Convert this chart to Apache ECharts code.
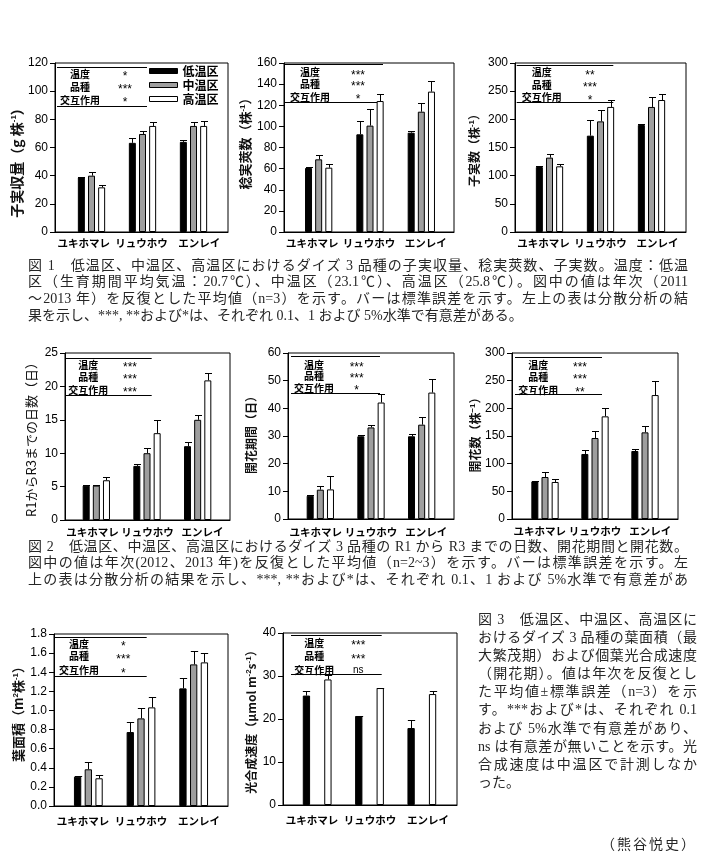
<!DOCTYPE html>
<html><head><meta charset="utf-8">
<script src="https://cdn.jsdelivr.net/npm/echarts@6/dist/echarts.min.js"></script>
<style>
html,body{margin:0;padding:0;background:#fff;width:705px;height:859px;overflow:hidden;}
#chart{position:absolute;left:0;top:0;width:705px;height:859px;}
.cap{position:absolute;font-family:"Liberation Serif","Noto Sans CJK JP",serif;font-size:14px;color:#262626;z-index:2;}
.cap div{white-space:nowrap;}
.c12 div{height:16.7px;line-height:16.7px;}
.c3 div{height:18.1px;line-height:18.1px;}
.j{text-align:justify;text-align-last:justify;}
</style></head><body>
<div id="chart"></div>
<div class="cap c12" style="left:28px;top:257.6px;width:660px;">
<div class="j">図 1　低温区、中温区、高温区におけるダイズ 3 品種の子実収量、稔実莢数、子実数。温度：低温</div>
<div class="j">区（生育期間平均気温：20.7℃）、中温区（23.1℃）、高温区（25.8℃）。図中の値は年次（2011</div>
<div class="j">～2013 年）を反復とした平均値（n=3）を示す。バーは標準誤差を示す。左上の表は分散分析の結</div>
<div>果を示し、***, **および*は、それぞれ 0.1、1 および 5%水準で有意差がある。</div>
</div>
<div class="cap c12" style="left:28px;top:538.6px;width:660px;">
<div class="j">図 2　低温区、中温区、高温区におけるダイズ 3 品種の R1 から R3 までの日数、開花期間と開花数。</div>
<div class="j">図中の値は年次(2012、2013 年)を反復とした平均値（n=2~3）を示す。バーは標準誤差を示す。左</div>
<div class="j">上の表は分散分析の結果を示し、***, **および*は、それぞれ 0.1、1 および 5%水準で有意差があ</div>
</div>
<div class="cap c3" style="left:478px;top:611px;width:219px;">
<div class="j">図 3　低温区、中温区、高温区に</div>
<div class="j">おけるダイズ 3 品種の葉面積（最</div>
<div class="j">大繁茂期）および個葉光合成速度</div>
<div class="j">（開花期）。値は年次を反復とし</div>
<div class="j">た平均値±標準誤差（n=3）を示</div>
<div class="j">す。***および*は、それぞれ 0.1</div>
<div class="j">および 5%水準で有意差があり、</div>
<div class="j">ns は有意差が無いことを示す。光</div>
<div class="j">合成速度は中温区で計測しなか</div>
<div>った。</div>
</div>
<div class="cap" style="right:8px;top:836px;letter-spacing:2px;line-height:18px;">（熊谷悦史）</div>
<script>
// ---------------- data ----------------
const varieties = ['ユキホマレ', 'リュウホウ', 'エンレイ'];
const zones = ['低温区', '中温区', '高温区'];
const factors = ['温度', '品種', '交互作用'];

// rows: 低温区, 中温区, 高温区 ; columns: varieties
const seedYieldMean = [[38.8, 63.3, 64.0], [40.0, 69.6, 75.3], [31.7, 75.3, 75.3]];
const seedYieldSE   = [[0.5, 3.3, 1.5], [2.8, 2.2, 2.8], [2.0, 2.7, 3.3]];
const podMean = [[60.6, 92.5, 94.0], [68.8, 100.7, 113.9], [60.9, 124.0, 132.9]];
const podSE   = [[0.5, 13.0, 2.0], [4.4, 15.7, 8.5], [3.8, 7.0, 10.0]];
const seedNumMean = [[115.4, 171, 190], [132, 196.4, 222], [116.6, 222, 234.3]];
const seedNumSE   = [[1, 28, 1], [6.5, 20, 17.6], [4.7, 13, 11]];
const r1r3Mean = [[5.15, 8.1, 11.05], [5.15, 10.0, 15.0], [5.95, 13.0, 20.9]];
const r1r3SE   = [[0.05, 0.25, 0.7], [0.05, 0.75, 0.7], [0.45, 1.9, 1.05]];
const flowerPeriodMean = [[8.4, 29.9, 29.9], [10.6, 33.1, 34.1], [10.7, 42.1, 45.7]];
const flowerPeriodSE   = [[0.2, 0.5, 0.9], [1.4, 1.0, 2.8], [4.7, 3.2, 4.9]];
const flowerNumMean = [[68, 117.5, 122.9], [75.9, 146.4, 156.6], [66.9, 185.5, 224]];
const flowerNumSE   = [[0.5, 7.2, 3.6], [9, 12.6, 12], [4.8, 14.5, 24.7]];
const leafAreaMean = [[0.307, 0.774, 1.231], [0.384, 0.917, 1.482], [0.29, 1.032, 1.503]];
const leafAreaSE   = [[0.005, 0.108, 0.11], [0.073, 0.105, 0.14], [0.03, 0.11, 0.094]];
const photoMean = [[25.45, 20.7, 17.9], [null, null, null], [29.2, 27.2, 25.8]];
const photoSE   = [[0.95, 0.1, 1.8], [null, null, null], [1.0, 0.1, 0.7]];

const yMax  = [120, 160, 300, 25, 60, 300, 1.8, 40];
const yStep = [20, 20, 50, 5, 10, 50, 0.2, 10];
const yNames = ['子実収量（g 株{s|-1}）', '稔実莢数（株{s|-1}）', '子実数（株{s|-1}）',
  'R1からR3までの日数（日）', '開花期間（日）', '開花数（株{s|−1}）',
  '葉面積（m{s|2}株{s|-1}）', '光合成速度（μmol m{s|-2}s{s|-1}）'];
const sigMarks = [['*', '***', '*'], ['***', '***', '*'], ['**', '***', '*'],
  ['***', '***', '***'], ['***', '***', '*'], ['***', '***', '**'],
  ['*', '***', '*'], ['***', '***', 'ns']];

// ---------------- layout ----------------
const frames = [[55,63,228,232],[284,63,454,232],[515,63,686,232],
  [65,353,230,520],[288,353,454,519],[512,353,678,519],
  [54,634,228,806],[283,633,457,805]];
const barSpan = [[66,219],[293,447],[524,677],[71,223],[295,447],[520,670],[62,220],[291,448]];
const nameGaps = [28,32,35,27,31,30,29,26];
const nameSize = [14,13,12,13,12,12,13,12];
const nameShift = [12,-7,0,0,-4,-4,-9,0];   // + moves name down
const nameBold = [true,true,true,false,true,true,true,true];
const labelMargin = [6,6,6,7,8,7,10,10];
const barW = [7,7,7,7,7,7,7.3,7.3];
const barGapPct = [45,45,45,45,45,45,47,47];
const tableLayout = [
  [2,92,3.7,42.7,25,70,11,24,37],
  [0,99,1.3,39.3,26,74,9.7,21.3,34.3],
  [1.7,98.3,2,39.3,26.7,75,9.7,22,34.7],
  [0,86.7,5.3,42,23.3,65,12,24.3,37],
  [3,92,3,40.3,26,68.7,12,23,35.3],
  [3,90,4.3,41,26.3,68,12,24.3,37],
  [1,92.7,3.3,41.7,25,69.3,10.3,22.7,36.7],
  [8,98.7,2,41.3,31.3,75.3,10.3,23.7,37]
];
const fills = ['#000000', '#9e9e9e', '#ffffff'];
const CJK = '"Noto Sans CJK JP", sans-serif';
const LAT = '"Liberation Sans", Arial, sans-serif';

const charts = [
  [seedYieldMean, seedYieldSE], [podMean, podSE], [seedNumMean, seedNumSE],
  [r1r3Mean, r1r3SE], [flowerPeriodMean, flowerPeriodSE], [flowerNumMean, flowerNumSE],
  [leafAreaMean, leafAreaSE], [photoMean, photoSE]
];

const grids = [], xAxes = [], yAxes = [], series = [], graphics = [];

charts.forEach(([mean, se], k) => {
  const [x1, y1, x2, y2] = frames[k];
  const [bx1, bx2] = barSpan[k];
  const ga = 2 * k, gb = 2 * k + 1;
  grids.push({left: x1, top: y1, width: x2 - x1, height: y2 - y1, show: true,
    borderColor: '#000', borderWidth: 1, backgroundColor: 'rgba(0,0,0,0)'});
  grids.push({left: bx1, top: y1, width: bx2 - bx1, height: y2 - y1, show: false});
  xAxes.push({type: 'category', gridIndex: ga, data: varieties,
    axisLine: {show: true, lineStyle: {color: '#000', width: 1}},
    axisTick: {show: false},
    axisLabel: {interval: 0, fontSize: 10.5, fontWeight: 'bold', color: '#000', fontFamily: CJK, margin: labelMargin[k]},
    splitLine: {show: false}});
  xAxes.push({type: 'category', gridIndex: gb, data: varieties, show: false});
  const dec = yStep[k] < 1;
  const sh = nameShift[k];
  yAxes.push({type: 'value', gridIndex: ga, min: 0, max: yMax[k], interval: yStep[k],
    axisLine: {show: true, lineStyle: {color: '#000', width: 1}},
    axisTick: {show: true, inside: false, length: 5, lineStyle: {color: '#000'}},
    axisLabel: {fontSize: 12, color: '#000', fontFamily: LAT, margin: 7,
      formatter: v => dec ? Number(v).toFixed(1) : String(v)},
    splitLine: {show: false},
    name: yNames[k], nameLocation: 'middle', nameGap: nameGaps[k], nameRotate: 90,
    nameTextStyle: {fontSize: nameSize[k], fontWeight: nameBold[k] ? 'bold' : 'normal',
      fontFamily: CJK, color: '#111',
      padding: [0, sh > 0 ? 2 * sh : 0, 0, sh < 0 ? -2 * sh : 0],
      rich: {s: {fontSize: 8, verticalAlign: 'top', fontFamily: LAT,
        fontWeight: nameBold[k] ? 'bold' : 'normal', color: '#111'}}}});
  yAxes.push({type: 'value', gridIndex: gb, min: 0, max: yMax[k], interval: yStep[k], show: false});

  const pitch = barW[k] * (1 + barGapPct[k] / 100);
  zones.forEach((z, zi) => {
    series.push({type: 'bar', name: z, xAxisIndex: gb, yAxisIndex: gb,
      data: mean[zi], barWidth: barW[k], barGap: barGapPct[k] + '%',
      itemStyle: {color: fills[zi], borderColor: '#000', borderWidth: 1},
      silent: true, animation: false});
    const off = (zi - 1) * pitch;
    series.push({type: 'custom', name: 'err' + k + '_' + zi, xAxisIndex: gb, yAxisIndex: gb,
      silent: true, animation: false, z: 3,
      data: mean[zi].map((m, i) => m == null ? [i, NaN, NaN] : [i, m, m + se[zi][i]]),
      renderItem: (params, api) => {
        const v1 = api.value(1), v2 = api.value(2);
        if (isNaN(v1)) return null;
        const p0 = api.coord([api.value(0), v1]);
        const p1 = api.coord([api.value(0), v2]);
        const cx = Math.round(p0[0] + off) + 0.5;
        const ty = Math.round(p1[1]) + 0.5;
        const hw = barW[k] / 2;
        return {type: 'group', children: [
          {type: 'line', shape: {x1: cx, y1: p0[1], x2: cx, y2: ty}, style: {stroke: '#000', lineWidth: 1}},
          {type: 'line', shape: {x1: cx - hw, y1: ty, x2: cx + hw, y2: ty}, style: {stroke: '#000', lineWidth: 1}}
        ]};
      }});
  });

  // ANOVA table
  const t = tableLayout[k];
  [t[2], t[3]].forEach(yy => {
    const ly = Math.round(y1 + yy) + 0.5;
    graphics.push({type: 'line', silent: true, z: 1,
      shape: {x1: x1 + t[0], y1: ly, x2: x1 + t[1], y2: ly},
      style: {stroke: '#000', lineWidth: 1}});
  });
  factors.forEach((f, i) => {
    graphics.push({type: 'text', silent: true, z: 1, x: x1 + t[4], y: y1 + t[6 + i],
      style: {text: f, fontSize: 10, fontWeight: 'bold', fontFamily: CJK, fill: '#000',
        align: 'center', verticalAlign: 'middle', textAlign: 'center', textVerticalAlign: 'middle'}});
    const s = sigMarks[k][i];
    const isStar = s.indexOf('*') >= 0;
    graphics.push({type: 'text', silent: true, z: 1, x: x1 + t[5], y: y1 + t[6 + i] + (isStar ? 2.5 : 0),
      style: {text: s, fontSize: isStar ? 12 : 10, fontFamily: LAT, fill: '#000',
        align: 'center', verticalAlign: 'middle', textAlign: 'center', textVerticalAlign: 'middle'}});
  });
});

const option = {
  animation: false,
  backgroundColor: '#ffffff',
  grid: grids, xAxis: xAxes, yAxis: yAxes, series: series,
  legend: {data: zones, orient: 'vertical', left: 144, top: 59, padding: 5,
    itemWidth: 28, itemHeight: 5, itemGap: 0, icon: 'rect', selectedMode: false,
    itemStyle: {borderColor: '#000', borderWidth: 1},
    textStyle: {fontSize: 12, lineHeight: 14, fontFamily: CJK, fontWeight: 'bold', color: '#000'}},
  graphic: {elements: graphics}
};
const chart = echarts.init(document.getElementById('chart'), null, {renderer: 'canvas'});
chart.setOption(option);
</script>
</body></html>
